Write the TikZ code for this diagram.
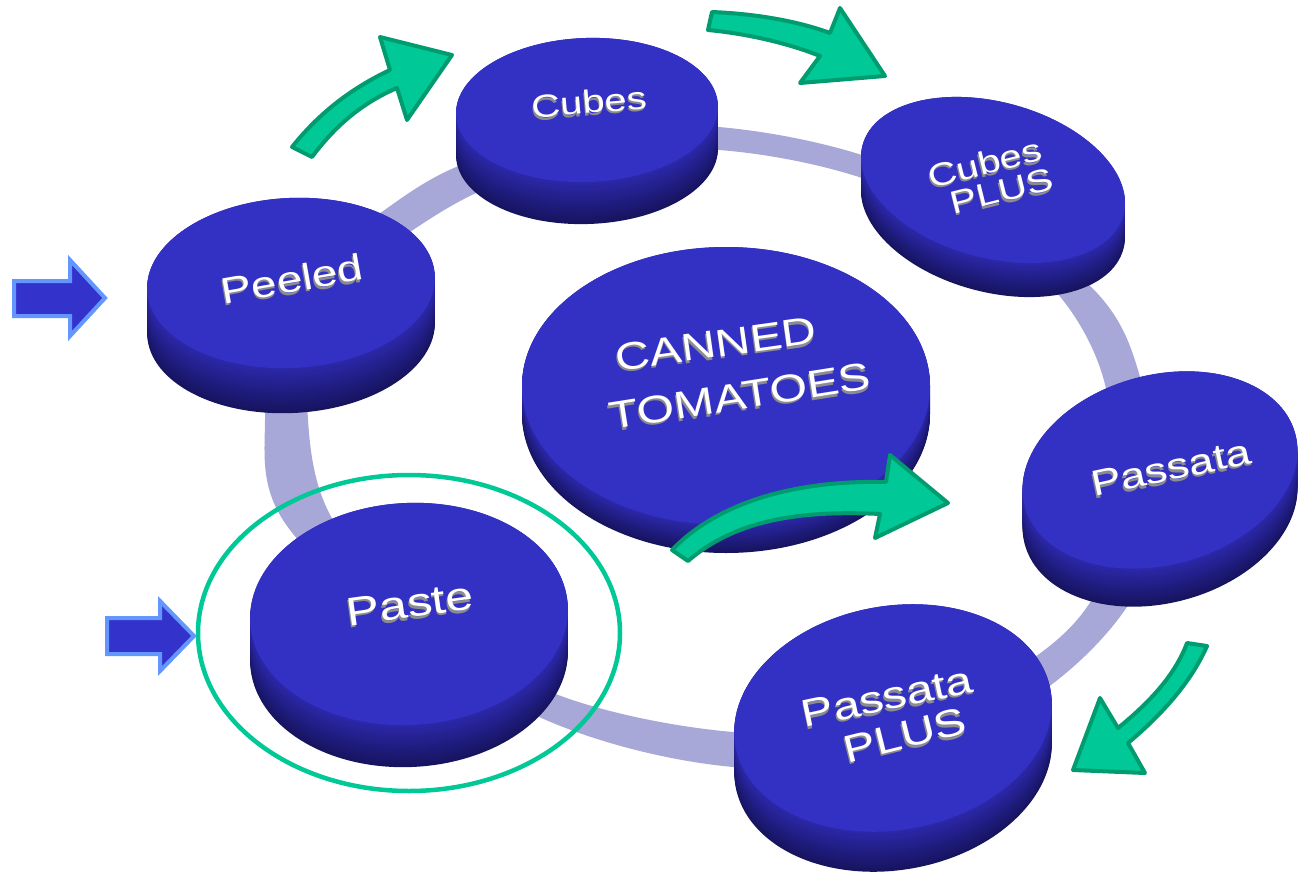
\documentclass[tikz,border=0pt]{standalone}
\usepackage{fontspec}
\setmainfont{Liberation Sans}
\definecolor{topc}{RGB}{51,48,196}
\definecolor{sidel}{RGB}{44,40,170}
\definecolor{sided}{RGB}{22,20,95}
\definecolor{ringc}{RGB}{168,168,216}
\definecolor{grf}{RGB}{0,200,150}
\definecolor{grd}{RGB}{0,155,110}
\definecolor{blf}{RGB}{51,51,204}
\definecolor{bld}{RGB}{100,150,255}
\definecolor{txs}{RGB}{140,140,140}
\tikzset{
  greenarrow/.style={fill=grf, draw=grd, line width=4pt, line join=round},
  bluearrow/.style={fill=blf, draw=bld, line width=4pt, line join=miter},
  ringband/.style={fill=ringc, even odd rule},
  discsel/.style={draw=grf, line width=4.5pt},
}
% disc: name cx cy rx ry rot thickness
\newcommand\mydisc[7]{%
  \foreach \k in {0,...,24}{%
    \pgfmathsetmacro\off{#7*(1-\k/24)}%
    \pgfmathsetmacro\mx{100*\k/24}%
    \fill[sidel!\mx!sided, rotate around={#6:(#2,#3+\off)}] (#2,#3+\off) ellipse[x radius=#4, y radius=#5];
  }%
  \fill[topc, rotate around={#6:(#2,#3)}] (#2,#3) ellipse[x radius=#4, y radius=#5];
  \coordinate (#1) at (#2,#3);
}
% label: name x y rot size text  (grey extrusion + white face)
\newcommand\mylbl[6]{%
  \node[font=\fontsize{#5}{#5}\selectfont, text=txs, rotate=#4, yscale=0.8, inner sep=0pt] (#1s) at (#2-0.8,#3+2.6) {#6};
  \node[font=\fontsize{#5}{#5}\selectfont, text=white, rotate=#4, yscale=0.8, inner sep=0pt] (#1) at (#2,#3) {#6};
}
\begin{document}
\begin{tikzpicture}[x=1pt,y=-1pt]
\useasboundingbox (0,0) rectangle (1301,878);
\fill[white] (0,0) rectangle (1301,878);

% ring band
\fill[ringband]
  plot[smooth cycle, tension=0.6] coordinates {(265,420) (285,320) (330,255) (376,216) (461,165) (590,132) (719,127) (865,156) (990,215) (1097,293) (1140,377) (1150,480) (1137,590) (1040,693) (900,755) (733,767) (553,723) (400,630) (283,520)}
  plot[smooth cycle, tension=0.6] coordinates {(308,420) (320,330) (355,275) (401,238) (483,190) (590,158) (719,150) (865,179) (985,240) (1057,293) (1103,377) (1112,480) (1097,590) (1020,667) (890,722) (733,732) (553,693) (420,610) (333,520)};

% discs
\mydisc{cubes}{587}{110}{131}{72}{2}{42}
\mydisc{cplus}{993}{180}{135}{78}{-15}{34}
\mydisc{peeled}{291}{283}{144}{85}{3}{45}
\mydisc{canned}{726}{386}{204}{139}{0}{28}
\mydisc{passata}{1160}{470}{140}{95}{15}{38}
\mydisc{paste}{409}{614}{159}{111}{3}{42}
\mydisc{pplus}{893}{718}{160}{112}{10}{40}

% labels
\mylbl{cubesT}{589}{102}{5}{40}{Cubes}
\mylbl{cplusTa}{985}{163}{14}{40}{Cubes}
\mylbl{cplusTb}{1002}{191}{14}{40}{PLUS}
\mylbl{peeledT}{292}{279}{10}{46}{Peeled}
\mylbl{cannedTa}{716}{344}{8}{48}{CANNED}
\mylbl{cannedTb}{740}{396}{9}{48}{TOMATOES}
\mylbl{passataT}{1171}{468}{12}{45}{Passata}
\mylbl{pasteT}{410}{604}{8}{50}{Paste}
\mylbl{pplusTa}{887}{697}{12}{48}{Passata}
\mylbl{pplusTb}{905}{735}{14}{48}{PLUS}

% selection ellipse around Paste
\draw[discsel] (409,633) ellipse[x radius=211, y radius=158];

% green curved arrows
\draw[greenarrow] (292,147) .. controls (320,112) and (352,88) .. (390,70) -- (380,37) -- (452,55) -- (407,120) -- (397,88) .. controls (362,103) and (335,126) .. (312,157) -- cycle;
\draw[greenarrow] (712,12) .. controls (760,14) and (800,22) .. (830,33) -- (840,8) -- (885,76) -- (800,83) -- (820,56) .. controls (790,44) and (750,34) .. (708,30) -- cycle;
\draw[greenarrow] (672,550) .. controls (720,500) and (800,480) .. (886,482) -- (890,455) -- (948,503) -- (875,538) -- (880,514) .. controls (800,510) and (735,520) .. (688,561) -- cycle;
\draw[greenarrow] (1187,643) .. controls (1175,675) and (1150,702) .. (1118,728) -- (1100,698) -- (1073,770) -- (1145,773) -- (1128,743) .. controls (1165,712) and (1192,680) .. (1207,646) -- cycle;

% blue input arrows
\draw[bluearrow] (14,281) -- (70,281) -- (70,260) -- (105,298) -- (70,336) -- (70,316) -- (14,316) -- cycle;
\draw[bluearrow] (107,618) -- (160,618) -- (160,601) -- (194,636) -- (160,671) -- (160,654) -- (107,654) -- cycle;
\end{tikzpicture}
\end{document}
